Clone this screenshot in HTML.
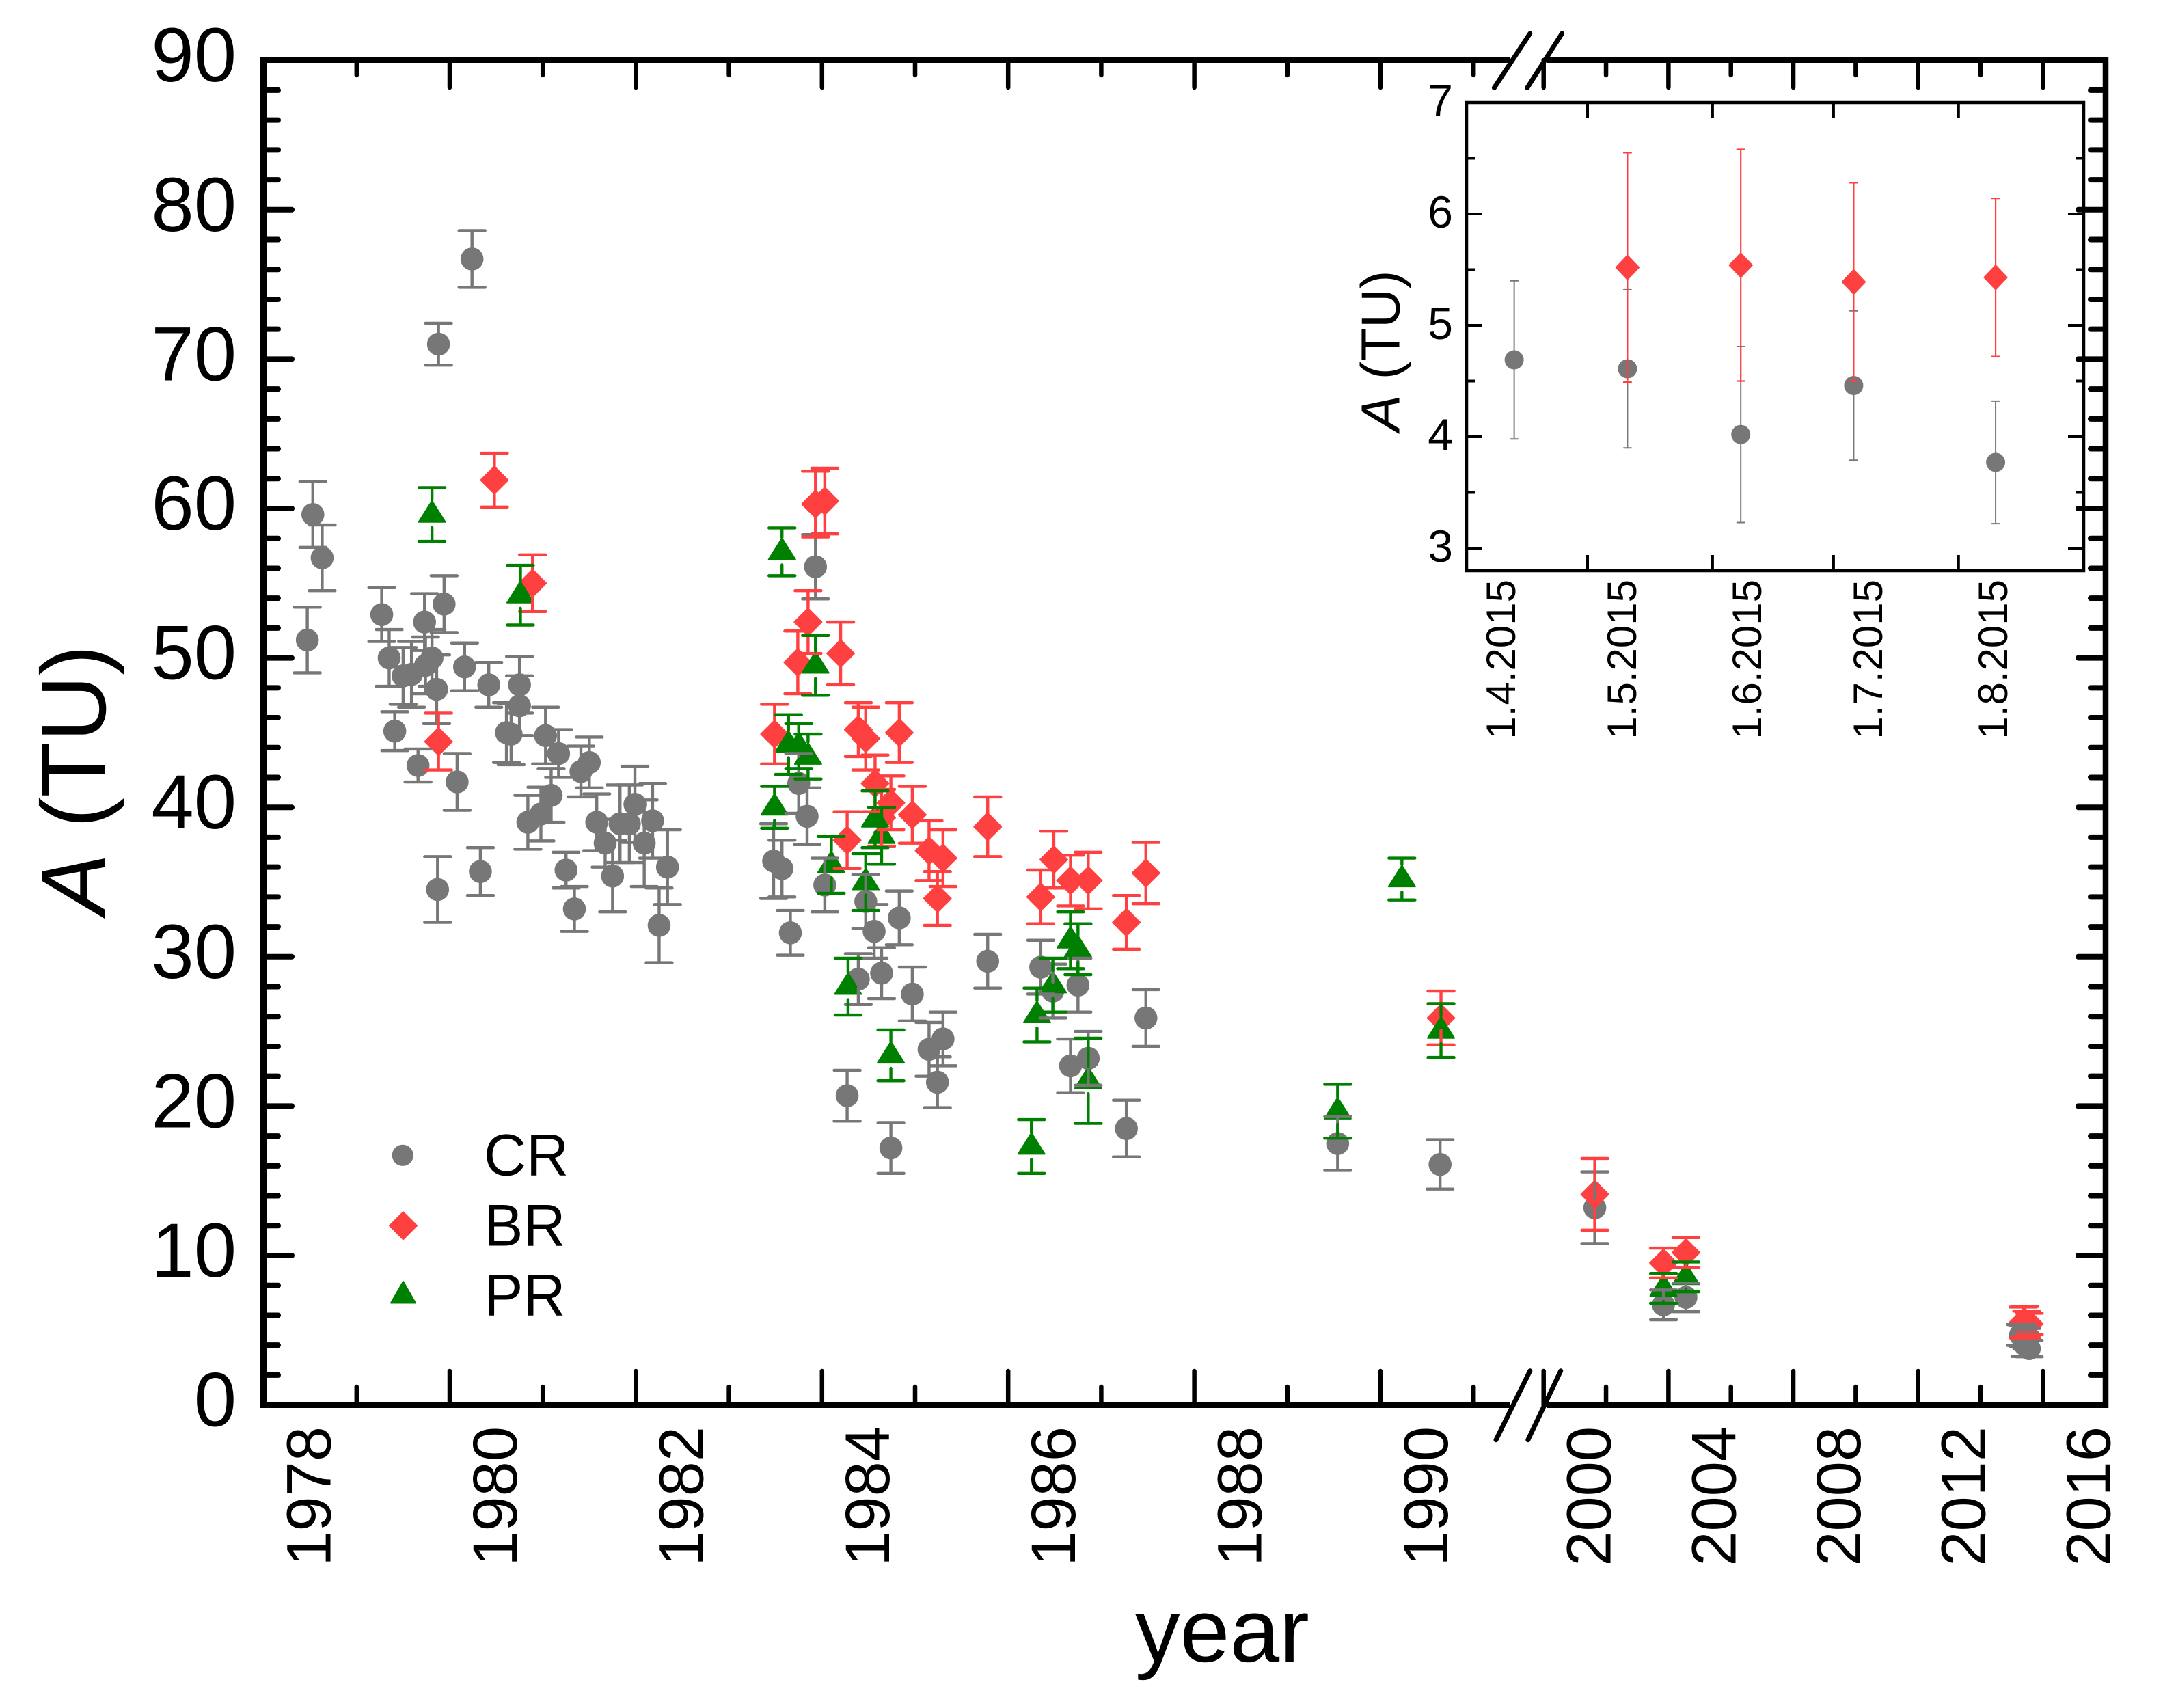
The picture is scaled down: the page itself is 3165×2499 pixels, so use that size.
<!DOCTYPE html>
<html lang="en">
<head>
<meta charset="utf-8">
<title>A (TU) by year</title>
<style>
html,body{margin:0;padding:0;background:#fff;}
svg{display:block;}
text{font-family:"Liberation Sans",sans-serif;fill:#000;}
</style>
</head>
<body>
<svg id="chart" xmlns="http://www.w3.org/2000/svg" width="3165" height="2499" viewBox="0 0 3165 2499">
  <rect x="0" y="0" width="3165" height="2499" fill="#fff"/>
  <g id="mainMarkers"></g>
  <g id="mainErrors"></g>
  <g id="insetMarkers"></g>
  <g id="insetErrors"></g>
  <g id="mainAxes"></g>
  <g id="insetAxes"></g>

  <text x="1661" y="2431" font-size="131">year</text>
  <text transform="translate(154,1338) rotate(-90)" font-size="134"><tspan font-style="italic">A</tspan> (TU)</text>
  <text transform="translate(2047.6,631) rotate(-90)" font-size="80"><tspan font-style="italic">A</tspan> (TU)</text>

  <g>
    <circle cx="589.3" cy="1690.3" r="15.6" fill="#777777"/>
    <text x="708" y="1719.3" font-size="86">CR</text>
    <polygon points="590,1773.3 610,1793.3 590,1813.3 570,1793.3" fill="#ff4040" stroke="#ff4040" stroke-width="2" stroke-linejoin="round"/>
    <text x="708" y="1822.3" font-size="86">BR</text>
    <polygon points="590,1875 608,1906.5 572,1906.5" fill="#008000" stroke="#008000" stroke-width="2" stroke-linejoin="round"/>
    <text x="708" y="1924.3" font-size="86">PR</text>
  </g>
</svg>
<script>
var crYears = [1978.53,1978.63,1978.47,1979.27,1979.35,1979.73,1979.94,1980.16,1980.42,1980.75,1980.75,1979.50,1979.59,1979.74,1979.81,1979.86,1979.41,1979.66,1980.08,1979.87,1980.33,1980.61,1980.66,1981.03,1981.17,1981.50,1981.41,1981.09,1980.98,1980.84,1981.25,1981.34,1981.58,1981.67,1981.83,1981.93,1981.99,1982.18,1982.09,1981.75,1982.34,1982.25,1979.88,1980.24,1983.93,1983.75,1983.84,1983.48,1983.57,1984.03,1983.66,1984.47,1984.56,1984.83,1984.39,1984.64,1984.97,1985.78,1986.35,1986.48,1986.75,1987.48,1987.27,1986.67,1986.86,1985.15,1985.30,1985.24,1984.27,1984.74,1989.54,1990.64,2001.64,2003.84,2004.56,2015.28,2015.36,2015.42,2015.48,2015.56];
var crValues = [59.6,56.7,51.2,52.9,50.0,52.4,53.6,49.4,48.2,48.2,46.8,48.8,48.9,49.5,50.0,47.9,45.1,42.8,41.7,34.5,35.7,45.0,44.9,44.8,43.6,43.0,42.4,40.8,39.55,39.0,35.8,33.2,39.0,37.6,38.9,38.9,40.2,39.1,37.6,35.4,36.0,32.1,71.0,76.7,56.1,41.6,39.4,36.4,35.9,34.8,31.6,33.7,31.7,32.6,28.5,28.9,27.5,29.7,29.3,27.7,28.1,25.9,18.5,22.7,23.2,23.8,24.5,21.6,20.7,17.2,17.5,16.1,13.2,6.7,7.2,4.68,4.61,4.03,4.45,3.77];
var crErrors = [2.2,2.2,2.2,1.8,1.9,1.9,1.9,1.6,1.5,1.9,2.0,1.9,2.2,1.9,1.9,2.3,1.3,1.1,1.9,2.2,1.6,2.0,2.05,1.9,1.6,1.7,1.7,1.8,1.8,1.8,1.2,1.5,1.9,1.6,2.6,2.6,2.55,2.5,2.9,2.4,2.5,2.5,1.4,1.9,2.15,2.0,1.9,2.5,1.9,1.8,1.5,1.8,1.8,1.8,1.7,1.7,1.8,1.8,1.8,1.8,1.8,1.9,1.9,1.8,1.8,1.8,1.8,1.7,1.7,1.7,1.8,1.65,2.4,1.0,0.96,0.7,0.71,0.79,0.67,0.55];

var brYears = [1983.93,1984.03,1983.85,1983.74,1984.20,1983.49,1984.39,1984.47,1984.83,1984.57,1984.74,1984.64,1984.97,1984.27,1985.78,1985.15,1985.30,1985.24,1986.49,1986.35,1986.67,1986.86,1987.27,1987.48,1980.48,1980.89,1979.88,1990.65,2001.64,2003.84,2004.56,2015.36,2015.42,2015.48,2015.56];
var brValues = [60.3,60.5,52.4,49.7,50.3,44.9,45.2,44.6,45.0,41.6,40.3,39.3,39.5,37.8,38.7,37.1,36.6,33.9,36.5,34.0,35.1,35.1,32.3,35.6,61.9,55.0,44.4,25.9,14.1,9.5,10.2,5.52,5.54,5.39,5.43];
var brErrors = [2.2,2.2,2.1,2.1,2.1,2.0,1.8,2.1,2.0,1.9,1.8,1.9,1.9,1.9,2.0,2.0,1.9,1.8,1.9,1.8,1.7,1.9,1.8,2.05,1.8,1.9,1.9,1.8,2.4,1.0,1.0,1.03,1.05,0.89,0.71];

var prYears = [1983.57,1983.93,1983.64,1983.75,1983.85,1983.49,1984.57,1984.64,1984.10,1984.47,1984.28,1984.74,1986.67,1986.75,1986.48,1986.31,1986.86,1986.25,1979.81,1980.76,1990.23,1990.65,1989.54,2003.84,2004.56];
var prValues = [57.1,49.5,44.2,44.1,43.4,40.0,39.2,38.1,36.15,35.0,28.0,23.4,31.1,30.5,28.1,26.1,21.7,17.3,59.6,54.2,35.2,25.06,19.66,7.8,8.57];
var prErrors = [1.6,2.0,2.0,1.5,1.5,1.4,1.9,1.9,1.9,1.9,1.9,1.7,1.9,1.7,1.8,1.8,2.85,1.8,1.8,2.0,1.4,1.8,1.8,1.0,1.0];

var insetCrDays = [11.8,39.9,68,96,131.2];
var insetCrValues = [4.69,4.61,4.02,4.46,3.77];
var insetCrErrors = [0.71,0.71,0.79,0.67,0.55];
var insetBrDays = [39.9,68,96,131.2];
var insetBrValues = [5.52,5.54,5.39,5.43];
var insetBrErrors = [1.03,1.04,0.89,0.71];

var xMajorYears = [1978,1980,1982,1984,1986,1988,1990,2000,2004,2008,2012,2016];
var xMinorYears = [1979,1981,1983,1985,1987,1989,1991,2002,2006,2010,2014];
var yMajorTicks = [0,10,20,30,40,50,60,70,80,90];
var yMinorTicks = [2,4,6,8,12,14,16,18,22,24,26,28,32,34,36,38,42,44,46,48,52,54,56,58,62,64,66,68,72,74,76,78,82,84,86,88];
var insetXTickDays = [0,30,61,91,122];
var insetXTickLabels = ['1.4.2015','1.5.2015','1.6.2015','1.7.2015','1.8.2015'];
var insetYMajor = [3,4,5,6,7];
var insetYMinor = [3.5,4.5,5.5,6.5];

var NS = 'http://www.w3.org/2000/svg';
var GRAY = '#777777', RED = '#ff4040', GREEN = '#008000';

function xOf(year) {
  return year < 1995 ? 385.6 + (year - 1978) * 136.2 : 2258.7 + (year - 2000) * 45.67;
}
function yOf(v) { return 2055.6 - v * 21.86; }
function inX(day) { return 2146 + day * 5.9; }
function inY(v) { return 150 + (7 - v) * 163; }

function mk(tag, attrs, parent) {
  var el = document.createElementNS(NS, tag);
  for (var k in attrs) { el.setAttribute(k, attrs[k]); }
  parent.appendChild(el);
  return el;
}

function drawBar(parent, cx, yTop, yBot, cy, gapUp, gapDown, capHalf, sw, color) {
  var d = 'M' + (cx - capHalf) + ' ' + yTop + 'H' + (cx + capHalf);
  d += 'M' + (cx - capHalf) + ' ' + yBot + 'H' + (cx + capHalf);
  if (cy - gapUp > yTop) { d += 'M' + cx + ' ' + yTop + 'V' + (cy - gapUp); }
  if (cy + gapDown < yBot) { d += 'M' + cx + ' ' + (cy + gapDown) + 'V' + yBot; }
  return mk('path', {d: d, fill: 'none', stroke: color, 'stroke-width': sw, 'stroke-linecap': 'round'}, parent);
}

var mainMarkers = document.getElementById('mainMarkers');
var mainErrors = document.getElementById('mainErrors');
var insetMarkers = document.getElementById('insetMarkers');
var insetErrors = document.getElementById('insetErrors');
var mainAxes = document.getElementById('mainAxes');
var insetAxes = document.getElementById('insetAxes');
var i, el, cx, cy;

/* main chart: CR circles */
for (i = 0; i < crYears.length; i++) {
  cx = xOf(crYears[i]); cy = yOf(crValues[i]);
  el = mk('circle', {cx: cx, cy: cy, r: 16.8, fill: GRAY}, mainMarkers);
  
  
}
/* main chart: BR diamonds */
for (i = 0; i < brYears.length; i++) {
  cx = xOf(brYears[i]); cy = yOf(brValues[i]);
  el = mk('polygon', {points: cx + ',' + (cy - 20) + ' ' + (cx + 20) + ',' + cy + ' ' + cx + ',' + (cy + 20) + ' ' + (cx - 20) + ',' + cy, fill: RED, stroke: RED, 'stroke-width': 2, 'stroke-linejoin': 'round'}, mainMarkers);
  
  
}
/* main chart: PR triangles */
for (i = 0; i < prYears.length; i++) {
  cx = xOf(prYears[i]); cy = yOf(prValues[i]);
  el = mk('polygon', {points: cx + ',' + (cy - 20) + ' ' + (cx + 19.5) + ',' + (cy + 11) + ' ' + (cx - 19.5) + ',' + (cy + 11), fill: GREEN, stroke: GREEN, 'stroke-width': 2, 'stroke-linejoin': 'round'}, mainMarkers);
  
  
}
/* main chart: error bars above all markers */
for (i = 0; i < crYears.length; i++) {
  el = drawBar(mainErrors, xOf(crYears[i]), yOf(crValues[i] + crErrors[i]), yOf(crValues[i] - crErrors[i]), yOf(crValues[i]), 13, 13, 19, 4.4, GRAY);
  
  
}
for (i = 0; i < brYears.length; i++) {
  el = drawBar(mainErrors, xOf(brYears[i]), yOf(brValues[i] + brErrors[i]), yOf(brValues[i] - brErrors[i]), yOf(brValues[i]), 20, 18, 19, 4.4, RED);
  
  
}
for (i = 0; i < prYears.length; i++) {
  el = drawBar(mainErrors, xOf(prYears[i]), yOf(prValues[i] + prErrors[i]), yOf(prValues[i] - prErrors[i]), yOf(prValues[i]), 21, 19, 19, 4.4, GREEN);
  
  
}

/* inset markers */
for (i = 0; i < insetCrDays.length; i++) {
  el = mk('circle', {cx: inX(insetCrDays[i]), cy: inY(insetCrValues[i]), r: 14, fill: GRAY}, insetMarkers);
  
  
}
for (i = 0; i < insetBrDays.length; i++) {
  cx = inX(insetBrDays[i]); cy = inY(insetBrValues[i]);
  el = mk('polygon', {points: cx + ',' + (cy - 18) + ' ' + (cx + 17) + ',' + cy + ' ' + cx + ',' + (cy + 18) + ' ' + (cx - 17) + ',' + cy, fill: RED, stroke: RED, 'stroke-width': 1.5, 'stroke-linejoin': 'round'}, insetMarkers);
  
  
}
for (i = 0; i < insetCrDays.length; i++) {
  el = drawBar(insetErrors, inX(insetCrDays[i]), inY(insetCrValues[i] + insetCrErrors[i]), inY(insetCrValues[i] - insetCrErrors[i]), inY(insetCrValues[i]), 11, 11, 5.5, 2, GRAY);
  
  
}
for (i = 0; i < insetBrDays.length; i++) {
  el = drawBar(insetErrors, inX(insetBrDays[i]), inY(insetBrValues[i] + insetBrErrors[i]), inY(insetBrValues[i] - insetBrErrors[i]), inY(insetBrValues[i]), 16, 14, 5.5, 2.2, RED);
  
  
}

/* main axes */
var axisPaths = [
  ['left-axis-line', 'M385.5 84V2060', 9],
  ['right-axis-line', 'M3081 84V2060', 8.5],
  ['top-axis-line-left', 'M381 88H2210', 8],
  ['top-axis-line-right', 'M2263 88H3085', 8],
  ['bottom-axis-line-left', 'M381 2056H2209', 8],
  ['bottom-axis-line-right', 'M2263 2056H3085', 8],
  ['top-axis-break-mark-left', 'M2186.4 128.4L2238.8 49', 7],
  ['top-axis-break-mark-right', 'M2234.8 128.4L2285.6 49', 7],
  ['bottom-axis-break-mark-left', 'M2189 2106.7L2238.8 2005.8', 7],
  ['bottom-axis-break-mark-right', 'M2235.8 2106.7L2283.7 2005.8', 7]
];
for (i = 0; i < axisPaths.length; i++) {
  el = mk('path', {d: axisPaths[i][1], stroke: '#000', 'stroke-width': axisPaths[i][2], fill: 'none', 'stroke-linecap': i > 5 ? 'round' : 'butt'}, mainAxes);
  
  
}

var tickD = '';
for (i = 0; i < xMajorYears.length; i++) {
  tickD += 'M' + xOf(xMajorYears[i]) + ' 2056V2006M' + xOf(xMajorYears[i]) + ' 88V128';
}
for (i = 0; i < xMinorYears.length; i++) {
  tickD += 'M' + xOf(xMinorYears[i]) + ' 2056V2029M' + xOf(xMinorYears[i]) + ' 88V110';
}
el = mk('path', {d: tickD, stroke: '#000', 'stroke-width': 6.5, 'stroke-linecap': 'round', fill: 'none'}, mainAxes);



tickD = '';
for (i = 0; i < yMajorTicks.length; i++) {
  if (yMajorTicks[i] > 0 && yMajorTicks[i] < 90) {
    tickD += 'M385 ' + yOf(yMajorTicks[i]) + 'H427M3081 ' + yOf(yMajorTicks[i]) + 'H3041';
  }
}
for (i = 0; i < yMinorTicks.length; i++) {
  tickD += 'M385 ' + yOf(yMinorTicks[i]) + 'H407M3081 ' + yOf(yMinorTicks[i]) + 'H3059';
}
el = mk('path', {d: tickD, stroke: '#000', 'stroke-width': 8, 'stroke-linecap': 'round', fill: 'none'}, mainAxes);



for (i = 0; i < yMajorTicks.length; i++) {
  el = mk('text', {x: 346, y: yOf(yMajorTicks[i]) + 31, 'font-size': 112, 'text-anchor': 'end'}, mainAxes);
  el.textContent = String(yMajorTicks[i]);
  
  
}
for (i = 0; i < xMajorYears.length; i++) {
  el = mk('text', {transform: 'translate(' + (xOf(xMajorYears[i]) + 98) + ',2087) rotate(-90)', 'font-size': 92, 'text-anchor': 'end'}, mainAxes);
  el.textContent = String(xMajorYears[i]);
  
  
}

/* inset axes */
el = mk('rect', {x: 2146, y: 150, width: 903, height: 685, fill: 'none', stroke: '#000', 'stroke-width': 4.5}, insetAxes);



tickD = '';
for (i = 1; i < insetXTickDays.length; i++) {
  tickD += 'M' + inX(insetXTickDays[i]) + ' 835V812M' + inX(insetXTickDays[i]) + ' 150V173';
}
for (i = 0; i < insetYMajor.length; i++) {
  if (insetYMajor[i] < 7) {
    tickD += 'M2146 ' + inY(insetYMajor[i]) + 'H2169M3049 ' + inY(insetYMajor[i]) + 'H3026';
  }
}
for (i = 0; i < insetYMinor.length; i++) {
  tickD += 'M2146 ' + inY(insetYMinor[i]) + 'H2158M3049 ' + inY(insetYMinor[i]) + 'H3037';
}
el = mk('path', {d: tickD, stroke: '#000', 'stroke-width': 4, fill: 'none'}, insetAxes);



for (i = 0; i < insetYMajor.length; i++) {
  el = mk('text', {x: 2126, y: inY(insetYMajor[i]) + 20, 'font-size': 66, 'text-anchor': 'end'}, insetAxes);
  el.textContent = String(insetYMajor[i]);
  
  
}
for (i = 0; i < insetXTickDays.length; i++) {
  el = mk('text', {transform: 'translate(' + (inX(insetXTickDays[i]) + 71) + ',848) rotate(-90)', 'font-size': 60, 'text-anchor': 'end'}, insetAxes);
  el.textContent = insetXTickLabels[i];
  
  
}
</script>
</body>
</html>
